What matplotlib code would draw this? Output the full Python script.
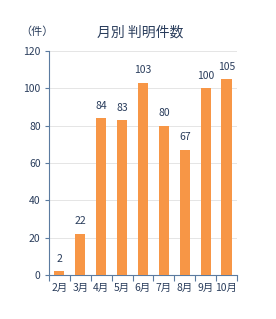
import matplotlib
matplotlib.use("Agg")
import matplotlib.pyplot as plt
import numpy as np

plt.rcParams['font.family'] = ['Noto Sans CJK JP', 'DejaVu Sans']

months = ["2月", "3月", "4月", "5月", "6月", "7月", "8月", "9月", "10月"]
counts = [2, 22, 84, 83, 103, 80, 67, 100, 105]
yticks = [0, 20, 40, 60, 80, 100, 120]

fig = plt.figure(figsize=(2.76, 3.19), dpi=100)
ax = fig.add_axes([0.1775, 0.138, 0.681, 0.702])

x = np.arange(len(months))
bar_color = "#F79646"
text_color = "#2A3D5C"
axis_color = "#5B7BA0"

ax.bar(x, counts, width=0.48, color=bar_color, zorder=3)
for xi, v in zip(x, counts):
    ax.text(xi, v + 4, str(v), ha="center", va="bottom", fontsize=7.5, color=text_color)

ax.set_xlim(-0.5, len(months) - 0.5)
ax.set_ylim(0, 120)
ax.set_yticks(yticks)
ax.set_yticklabels([str(t) for t in yticks], fontsize=7.5, color=text_color)
ax.set_xticks(x)
ax.set_xticklabels(months, fontsize=7.5, color=text_color)
ax.set_xticks(np.arange(-0.5, len(months)), minor=True)
ax.tick_params(axis="x", which="major", length=0, pad=6)
ax.tick_params(axis="x", which="minor", length=4, color=axis_color, width=0.8)
ax.tick_params(axis="y", length=3, color=axis_color, width=0.8, pad=3)

ax.grid(axis="y", color="#E0E0E0", linewidth=0.6, zorder=0)
for s in ["top", "right"]:
    ax.spines[s].set_visible(False)
for s in ["left", "bottom"]:
    ax.spines[s].set_color(axis_color)
    ax.spines[s].set_linewidth(0.8)

fig.text(140 / 276, 1 - 33 / 319, "月別 判明件数", ha="center", va="center", fontsize=10, color=text_color)
fig.text(20 / 276, 1 - 32 / 319, "（件）", ha="left", va="center", fontsize=8, color=text_color)

fig.savefig("out.png", dpi=100)
